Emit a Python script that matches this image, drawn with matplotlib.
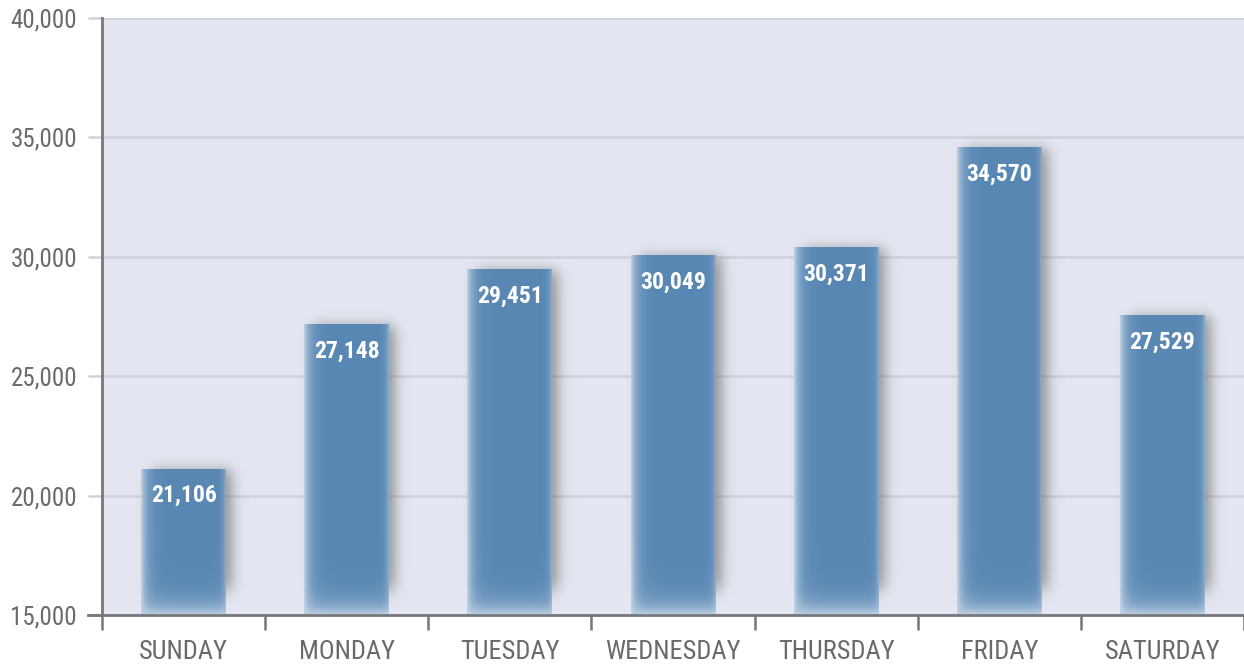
import matplotlib
matplotlib.use("Agg")
import matplotlib.pyplot as plt
import numpy as np
from matplotlib import font_manager
from matplotlib.font_manager import FontProperties
from matplotlib.colors import to_rgb

days = ['SUNDAY', 'MONDAY', 'TUESDAY', 'WEDNESDAY', 'THURSDAY', 'FRIDAY', 'SATURDAY']
visits = [21106, 27148, 29451, 30049, 30371, 34570, 27529]
y_ticks = [15000, 20000, 25000, 30000, 35000, 40000]

BAR_COLOR = '#5887b4'
BG_COLOR = '#e4e7f1'
GRID_COLOR = '#d0d3dc'
AXIS_COLOR = '#76777b'
TEXT_COLOR = '#6a6a6a'


# narrow font if one is around, otherwise plain Liberation Sans, smaller
def find_font(keys, bold):
    for key in keys:
        for f in font_manager.fontManager.ttflist:
            fn = f.fname.replace('-', '').replace('_', '')
            if key.lower() in fn.lower():
                is_bold = f.weight in ('bold', 700) or (isinstance(f.weight, int) and f.weight >= 700)
                if is_bold == bold and f.style == 'normal':
                    return f.fname
    return None


narrow_keys = ['RobotoCondensed', 'LiberationSansNarrow', 'DejaVuSansCondensed']
reg = find_font(narrow_keys, False)
bld = find_font(narrow_keys, True)
if reg and bld:
    font_reg = FontProperties(fname=reg, size=18)
    font_xlab = FontProperties(fname=reg, size=19)
    font_val = FontProperties(fname=bld, size=17)
else:
    font_reg = FontProperties(family='Liberation Sans', size=15)
    font_xlab = FontProperties(family='Liberation Sans', size=15)
    font_val = FontProperties(family='Liberation Sans', weight='bold', size=14.5)

W, H, DPI = 1244, 664, 100
fig = plt.figure(figsize=(W / DPI, H / DPI), dpi=DPI)
ax = fig.add_axes([102 / W, 49 / H, 1 - 102 / W, (615 - 18) / H])
ax.set_facecolor(BG_COLOR)

ymin, ymax = 15000, 40000

# pixel -> data conversion (for the soft edges / shadow)
ax_w_px = W - 102
ax_h_px = 615 - 18
px_x = len(days) / ax_w_px
px_y = (ymax - ymin) / ax_h_px

bar_w = 0.52
rgb = np.array(to_rgb(BAR_COLOR))


def smooth(t):
    return 0.5 * (1 + np.tanh(t))


for i, v in enumerate(visits):
    x0, x1 = i - bar_w / 2, i + bar_w / 2
    # shadow, blurred, mostly on the right side
    sx0, sx1 = x0 - 5 * px_x, x1 + 35 * px_x
    sy1 = v + 30 * px_y
    nx, ny = 140, 260
    xs = np.linspace(sx0, sx1, nx)
    ys = np.linspace(ymin, sy1, ny)
    X, Y = np.meshgrid(xs, ys)
    s = 8
    L, R, T, B = x0 + 10 * px_x, x1 + 6 * px_x, v - 1 * px_y, ymin + 25 * px_y
    a_x = smooth((X - L) / (s * px_x)) - smooth((X - R) / (s * px_x))
    a_y = smooth((Y - B) / (10 * px_y)) - smooth((Y - T) / (s * px_y))
    sh = np.zeros((ny, nx, 4))
    sh[..., :3] = 0.3
    sh[..., 3] = 0.55 * a_x * a_y
    ax.imshow(sh, extent=(sx0, sx1, ymin, sy1), origin='lower', aspect='auto',
              interpolation='bilinear', zorder=2)

    # bar body, paler towards left and bottom edges
    xs = np.linspace(x0, x1, 120)
    ys = np.linspace(ymin, v, 300)
    X, Y = np.meshgrid(xs, ys)
    dl = (X - x0) / px_x
    dr = (x1 - X) / px_x
    db = (Y - ymin) / px_y
    keep = (1 - np.exp(-dl / 6)) * (1 - np.exp(-db / 11)) * (1 - 0.5 * np.exp(-dr / 3))
    f = 0.38 + 0.62 * keep
    img = np.ones((300, 120, 3)) * (1 - f[..., None]) + rgb * f[..., None]
    ax.imshow(img, extent=(x0, x1, ymin, v), origin='lower', aspect='auto',
              interpolation='bilinear', zorder=3)

    ax.annotate(f'{v:,}', (i, v), xytext=(0, -19), textcoords='offset points',
                ha='center', va='center', color='white', fontproperties=font_val,
                zorder=5)

ax.set_xlim(-0.5, len(days) - 0.5)
ax.set_ylim(ymin, ymax)

# grid and ticks
ax.set_yticks(y_ticks)
ax.set_yticklabels([f'{t:,}' for t in y_ticks], fontproperties=font_reg, color=TEXT_COLOR)
ax.grid(axis='y', color=GRID_COLOR, linewidth=1.8, zorder=1)
ax.set_axisbelow(True)
ax.tick_params(axis='y', length=10, width=1.8, color=GRID_COLOR, pad=8)

ax.set_xticks(range(len(days)))
ax.set_xticklabels(days, fontproperties=font_xlab, color=TEXT_COLOR)
ax.set_xticks(np.arange(-0.5, len(days), 1), minor=True)
ax.tick_params(axis='x', which='major', length=0, pad=18)
ax.tick_params(axis='x', which='minor', length=11, width=1.8, color=AXIS_COLOR)

for side in ['top', 'right']:
    ax.spines[side].set_visible(False)
for side in ['left', 'bottom']:
    ax.spines[side].set_color(AXIS_COLOR)
    ax.spines[side].set_linewidth(2)
    ax.spines[side].set_zorder(6)
ax.plot([-14 / ax_w_px, 0], [0, 0], transform=ax.transAxes, color=AXIS_COLOR,
        linewidth=2, clip_on=False, zorder=6)

fig.savefig('out.png', dpi=DPI, facecolor='white')
